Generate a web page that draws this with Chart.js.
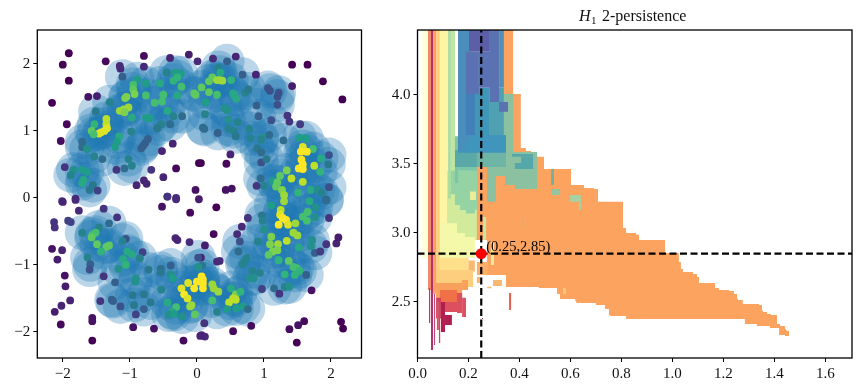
<!DOCTYPE html>
<html lang="en">
<head>
<meta charset="UTF-8">
<title>H1 2-persistence</title>
<script src="https://cdn.jsdelivr.net/npm/chart.js"></script>
<style>
    body { margin: 0; background: #ffffff; }
    canvas { position: absolute; top: 0; }
    #cloudChart { left: 0; }
    #persistenceChart { left: 380px; }
</style>
</head>
<body>
<canvas id="cloudChart" width="400" height="390"></canvas>
<canvas id="persistenceChart" width="481" height="390"></canvas>
<script>
// point cloud, each entry is [x, y, density]
const pointsTopLeft = [[-1.91,2.16,0],[-2,1.99,0],[-1.91,1.75,0],[-2.16,1.42,0],[-1.94,1.1,.02],[-2.03,.85,.03],[-1.62,1.51,.05],[-1.49,1.52,.08],[-1.36,2.04,.02],[-1.15,1.97,.12],[-1.14,1.93,.12],[-.79,2.12,.03],[-.79,1.96,.12],[-.4,2.09,.1],[-.12,2.14,.08],[.01,2.04,.12],[-1.11,1.81,.3],[-.89,1.77,.55],[-.76,1.71,.55],[-.95,1.69,.7],[-.95,1.62,.75],[-.93,1.55,.8],[-1.05,1.51,.8],[-1.07,1.49,.8],[-1.3,1.43,.45],[-1.51,1.29,.4],[-1.15,1.3,.85],[-1.09,1.32,.85],[-1.02,1.35,.85],[-1.08,1.28,.8],[-.97,1.2,.6],[-.76,1.53,.7],[-.63,1.42,.7],[-.52,1.44,.7],[-.5,1.54,.7],[-.76,1.2,.55],[-.7,1.19,.55],[-.55,1.71,.6],[-.45,1.87,.45],[-.32,1.87,.55],[-.24,1.86,.55],[-.35,1.75,.65],[-.29,1.8,.65],[-.23,1.66,.7],[-.29,1.53,.6],[-.44,1.3,.6],[-.35,1.22,.45],[-.22,1.22,.35],[-.4,1.1,.35],[-.53,1.1,.45],[-.59,1.04,.4],[-.98,.99,.45],[-1.35,1.18,.9],[-1.35,1.1,.9],[-1.34,1.04,.95],[-1.38,1,.95],[-1.43,.98,.95],[-1.46,.96,.95],[-1.53,1.1,.65],[-1.57,1,.75],[-1.54,.95,.7],[-1.16,.92,.6],[-1.19,.84,.55],[-1.22,.76,.55],[-1.71,.84,.35],[-1.71,.76,.35],[-1.64,.73,.5],[-1.53,.62,.45],[-1.41,.58,.35],[-1.02,.58,.45],[-.97,.48,.45],[-1.08,.44,.35],[-1.2,.42,.15],[-.73,.88,.3],[-.77,.82,.3],[-.8,.78,.3],[-.83,.74,.3],[-.36,.81,.1],[-.52,.7,.1],[-.31,.44,.02],[-.68,.42,.15],[-.5,.31,.1],[-.79,.26,.1],[-.75,.21,.1],[-.9,.19,.1],[.03,.52,0],[-.02,.12,.05],[-.44,.02,.15],[-.31,0,.12],[-1.97,.46,.15],[-1.84,.42,.5],[-1.71,.42,.55],[-1.64,.39,.55],[-1.88,.34,.45],[-1.69,.27,.6],[-1.71,.22,.6],[-1.55,.19,.4],[-1.6,.12,.4],[-1.48,.11,.2],[-1.81,-.01,.12],[-2.01,-.05,.15],[-.04,1.56,.75],[-.02,1.54,.75]];
const pointsTopRight = [[.24,2.08,.12],[.45,2.04,.3],[.58,2.11,.1],[.32,1.94,.45],[.35,1.87,.6],[.23,1.8,.75],[.18,1.74,.75],[.3,1.76,.85],[.34,1.76,.85],[.38,1.75,.85],[.51,1.76,.65],[.68,1.84,.3],[.88,1.84,.1],[.07,1.65,.75],[.18,1.58,.75],[.3,1.54,.7],[.13,1.43,.55],[.54,1.56,.6],[.56,1.53,.6],[.59,1.48,.6],[.72,1.57,.45],[.77,1.62,.4],[1.06,1.64,.25],[1.09,1.6,.25],[1.22,1.57,.25],[1.2,1.51,.25],[1.2,1.39,.25],[.89,1.38,.3],[1.42,1.99,0],[1.65,1.99,0],[1.42,1.67,.08],[1.88,1.74,0],[2.17,1.47,0],[.41,1.34,.5],[.45,1.31,.5],[.12,1.25,.45],[.47,1.17,.5],[.61,1.13,.45],[.92,1.22,.3],[1.11,1.16,.25],[1.35,1.23,.15],[1.38,1.14,.15],[1.54,1.1,.18],[.09,1.05,.35],[.11,1.03,.35],[.31,.97,.3],[.47,1.03,.45],[.55,1,.45],[.58,.92,.4],[.78,1.03,.45],[.8,.89,.45],[.97,.9,.5],[.96,.87,.45],[1.08,.94,.35],[1.29,.86,.35],[1.53,.9,.55],[1.63,.89,.55],[.9,.74,.4],[.96,.68,.35],[.96,.53,.25],[1.04,.58,.4],[.5,.65,.1],[.06,.52,0],[.44,.51,.02],[1.58,.76,.95],[1.73,.73,.7],[1.55,.69,1],[1.64,.69,1],[1.85,.59,.6],[1.97,.64,.25],[1.96,.5,.4],[1.56,.57,1],[1.58,.5,1],[1.52,.44,1],[1.58,.43,1],[1.75,.48,.9],[1.84,.39,.65],[1.34,.41,.8],[1.41,.29,.9],[1.24,.33,.75],[1.58,.24,.9],[1.13,.25,.55],[1.2,.23,.75],[1.18,.17,.75],[1,.18,.45],[.95,.29,.35],[.89,.18,.15],[1.27,.12,.8],[1.3,.04,.85],[1.51,.08,.65],[1.7,.12,.6],[1.8,.12,.5],[1.86,.08,.45],[1.97,.16,.25],[1.93,-.03,.3],[.43,.12,.05],[.52,.14,.05]];
const pointsBottomRight = [[1.3,-.05,.85],[1.11,-.11,.55],[1.68,-.05,.6],[1.77,-.14,.5],[1.93,-.04,.35],[1.97,-.3,.15],[1.65,-.21,.7],[1.58,-.28,.7],[1.64,-.34,.7],[1.76,-.29,.5],[.29,-.14,0],[.76,-.3,.15],[.67,-.43,.12],[.6,-.54,.12],[.64,-.65,.25],[.91,-.65,.45],[.97,-.26,.4],[.98,-.34,.45],[1,-.47,.5],[1.25,-.18,.9],[1.24,-.25,.95],[1.28,-.3,1],[1.33,-.33,1],[1.36,-.4,.95],[1.22,-.4,1],[1.47,-.38,.85],[1.44,-.52,.85],[1.5,-.56,.85],[1.11,-.58,.8],[1.34,-.64,.9],[1.09,-.69,.8],[1.21,-.69,.85],[1.2,-.78,.8],[1.13,-.8,.8],[1.07,-.85,.75],[1.52,-.74,.6],[1.72,-.63,.5],[1.7,-.72,.5],[1.76,-.82,.3],[1.84,-.8,.18],[1.93,-.69,.15],[2.08,-.68,.1],[2.11,-.59,.08],[.62,-.8,.35],[.74,-.9,.45],[.7,-.96,.45],[.68,-.99,.45],[1.22,-.93,.65],[1.37,-.94,.75],[1.44,-1.03,.7],[1.49,-1.05,.7],[1.53,-1.09,.65],[1.31,-1.14,.65],[1.46,-1.15,.65],[.83,-1.09,.45],[.94,-1.12,.45],[.79,-1.2,.5],[.85,-1.2,.5],[1.63,-1.15,.3],[1.31,-1.33,.45],[1.38,-1.32,.5],[1.15,-1.35,.35],[.97,-1.36,.2],[1.23,-1.43,.15],[1.71,-1.38,.05],[.09,-1.28,1],[.09,-1.35,1],[.09,-1.22,1],[.07,-1.17,1],[.23,-1.29,.85],[.25,-1.35,.85],[.32,-1.4,.85],[.51,-1.35,.6],[.58,-1.44,.8],[.65,-1.4,.65],[.54,-1.5,.9],[.58,-1.52,.9],[.48,-1.56,.9],[.23,-1.53,.7],[.69,-1.62,.55],[.76,-1.66,.35],[.59,-1.65,.55],[.45,-1.66,.55],[.3,-1.7,.45],[.11,-1.87,.15],[.05,-2.06,.12],[.12,-2.07,.12],[.54,-1.99,.03],[.81,-1.91,.03],[1.38,-1.96,.03],[1.51,-1.9,.05],[1.6,-1.84,.03],[1.49,-2.16,0],[2.15,-1.85,0],[2.18,-1.95,0],[.25,-.54,.02],[.12,-.71,.08],[.34,-.94,.12],[.3,-.95,.12],[.06,-.89,.1],[.08,-1.01,.4]];
const pointsBottomLeft = [[-2,-.06,.1],[-1.81,-.03,.12],[-1.76,-.19,.12],[-2.13,-.36,.15],[-2.12,-.44,.15],[-1.92,-.34,.2],[-1.88,-.36,.2],[-1.39,-.16,.15],[-1.19,-.29,.15],[-1.31,-.38,.35],[-1.46,-.44,.45],[-1.51,-.52,.7],[-1.56,-.55,.7],[-1.57,-.59,.75],[-1.71,-.52,.45],[-1.49,-.69,.75],[-1.35,-.73,.75],[-1.31,-.71,.75],[-1.43,-.8,.65],[-2.16,-.76,.05],[-2.01,-.78,.1],[-2.08,-.92,.08],[-1.97,-1.16,.05],[-1.96,-1.32,.08],[-1.89,-1.53,.1],[-2.02,-1.61,.1],[-2.12,-1.7,.08],[-2.03,-1.89,.02],[-1.63,-.89,.45],[-1.59,-.99,.3],[-1.6,-1.07,.25],[-1.39,-1.17,.15],[-1.22,-1.26,.3],[-1.06,-.61,.25],[-1.11,-.64,.45],[-1.04,-.8,.6],[-.97,-.84,.6],[-.81,-.81,.2],[-.85,-.9,.45],[-1.1,-.91,.6],[-1.06,-1,.65],[-1.17,-1.06,.5],[-.72,-1.07,.4],[-.91,-1.2,.5],[-.92,-1.25,.5],[-.54,-1.06,.35],[-.54,-1.11,.4],[-.39,-1.01,.3],[-.39,-1.14,.5],[-.36,-1.2,.55],[-.53,-1.37,.45],[-1.44,-1.54,.15],[-1.27,-1.52,.3],[-1.25,-1.54,.3],[-1.14,-1.62,.25],[-.94,-1.6,.4],[-.96,-1.45,.4],[-.79,-1.44,.4],[-.69,-1.56,.4],[-.79,-1.66,.3],[-.91,-1.74,.2],[-.95,-1.93,.05],[-.64,-1.95,.05],[-1.56,-1.79,.05],[-1.56,-1.84,.05],[-1.56,-2.13,0],[-.23,-1.35,.95],[-.13,-1.27,.95],[0,-1.25,1],[-.19,-1.44,1],[-.14,-1.5,.95],[-.04,-1.35,1],[-.1,-1.62,.85],[-.08,-1.6,.85],[-.44,-1.56,.6],[-.31,-1.63,.7],[-.37,-1.7,.6],[-.42,-1.74,.5],[-.34,-1.73,.55],[-.22,-1.77,.5],[-.03,-1.74,.75],[.02,-1.03,.5],[.02,-.89,.25],[-.2,-2.13,.02],[-.11,-.66,.12],[-.1,-.22,.02],[.03,-.02,.08],[-.32,-.6,.1],[-.29,-.63,.1],[-.44,.02,.15],[-.31,-.02,.12],[-.52,-.13,.05],[.07,-2.05,.1]];
const coverThreshold = 0.2;

// persistence crossing point
const crossX = [0.25];
const crossY = [2.85];

// outline of the big orange region, [x, y]
const orangeBody = [[.339,4.471],[.375,4.471],[.375,4.007],[.405,4.007],[.405,3.616],[.425,3.616],[.425,3.594],[.445,3.594],[.445,3.551],[.496,3.551],[.496,3.464],[.602,3.464],[.602,3.348],[.653,3.348],[.653,3.326],[.692,3.326],[.692,3.319],[.708,3.319],[.708,3.225],[.806,3.225],[.806,3.036],[.818,3.036],[.818,3],[.857,3],[.857,2.986],[.869,2.986],[.869,2.949],[.971,2.949],[.971,2.855],[1.025,2.855],[1.025,2.79],[1.033,2.79],[1.033,2.739],[1.041,2.739],[1.041,2.717],[1.08,2.717],[1.08,2.703],[1.096,2.703],[1.096,2.681],[1.104,2.681],[1.104,2.638],[1.167,2.638],[1.167,2.601],[1.182,2.601],[1.182,2.587],[1.222,2.587],[1.222,2.58],[1.241,2.58],[1.241,2.558],[1.253,2.558],[1.253,2.536],[1.257,2.514],[1.276,2.514],[1.276,2.486],[1.339,2.486],[1.339,2.478],[1.351,2.478],[1.351,2.449],[1.355,2.428],[1.371,2.428],[1.371,2.413],[1.386,2.413],[1.386,2.406],[1.41,2.406],[1.41,2.341],[1.422,2.341],[1.422,2.326],[1.441,2.326],[1.441,2.312],[1.449,2.29],[1.457,2.29],[1.457,2.254],[1.441,2.254],[1.441,2.261],[1.418,2.261],[1.418,2.312],[1.382,2.312],[1.382,2.326],[1.331,2.326],[1.331,2.341],[1.284,2.341],[1.284,2.377],[.818,2.377],[.818,2.399],[.759,2.399],[.751,2.406],[.751,2.449],[.735,2.449],[.735,2.478],[.7,2.478],[.7,2.493],[.625,2.493],[.618,2.514],[.618,2.522],[.559,2.522],[.559,2.558],[.547,2.558],[.547,2.601],[.476,2.601],[.476,2.609],[.347,2.609],[.347,2.696],[.273,2.696],[.273,2.949],[.229,2.949],[.229,3.6],[.339,3.6]];

// patches of the persistence map, each [x0, x1, y0, y1]
const stripPale = [[.018,.041,2.819,4.471]];
const stripSalmon = [[.041,.053,2.587,4.471]];
const stripThin = [[.045,.05,2.348,2.6]];
const stripMagenta = [[.053,.061,2.152,4.471]];
const stripOrange = [[.061,.073,2.56,4.471]];
const stripLight = [[.073,.088,2.6,4.471]];
const stripYellow = [[.088,.12,2.75,4.471]];
const hillPale = [[.116,.233,2.95,3.45]];
const hillLime = [[.12,.131,3.25,4.471]];
const hillSpring = [[.131,.147,3.3,4.471]];
const hillGreen = [[.131,.233,3.28,3.45],[.147,.233,3.203,3.45],[.167,.233,3.167,3.45],[.19,.225,3.14,3.45]];
const hillTip = [[.206,.229,3.239,3.3]];
const hillYellow = [[.088,.155,2.79,3.07],[.155,.186,2.82,3],[.186,.225,2.82,2.97]];
const hillFoot = [[.088,.2,2.69,2.82],[.2,.218,2.7,2.75]];
const footBits = [[.2,.225,2.72,2.8],[.233,.245,2.638,2.681],[.296,.331,2.616,2.659],[.273,.29,2.6,2.61]];
const bandLight = [[.073,.218,2.609,2.732]];
const bandOrange = [[.073,.175,2.529,2.638],[.175,.198,2.587,2.659]];
const bandSalmon = [[.088,.155,2.464,2.587]];
const bandPink = [[.155,.175,2.42,2.565],[.175,.19,2.391,2.53],[.108,.155,2.428,2.5]];
const bandDark = [[.073,.092,2.38,2.53]];
const spikeA = [[.065,.069,2.188,2.56]];
const spikeB = [[.084,.089,2.203,2.5]];
const spikeC = [[.076,.084,2.297,2.5]];
const bandCrimson = [[.092,.108,2.283,2.5],[.108,.135,2.333,2.406],[.253,.257,2.377,2.384]];
const spikeRed = [[.359,.367,2.442,2.565]];
const notchFoot = [[.233,.273,2.696,2.79]];
const notchPale = [[.288,.3,2.768,2.935]];
const notchLime = [[.257,.269,2.949,3.116]];
const upperGreen = [[.339,.375,3.587,4.007],[.284,.469,3.471,3.587],[.343,.469,3.348,3.471],[.308,.343,3.413,3.471],[.382,.469,3.319,3.348],[.273,.308,3.225,3.587]];
const upperTeal = [[.371,.453,3.551,3.572],[.406,.453,3.464,3.551],[.382,.406,3.464,3.507]];
const upperMint = [[.159,.233,3.45,3.55],[.147,.159,3.362,3.7]];
const tealBand = [[.147,.233,3.478,3.6]];
const tealBandRight = [[.233,.347,3.478,3.6]];
const blueBand = [[.159,.347,3.58,3.71]];
const blueLeft = [[.159,.186,3.6,3.71],[.159,.202,3.674,4.471]];
const blueMidA = [[.19,.229,3.71,4.051]];
const blueMidB = [[.229,.284,3.71,4.051]];
const blueMidC = [[.284,.339,3.71,4.051]];
const blueEdge = [[.32,.339,4.051,4.471]];
const violet = [[.284,.32,3.949,4.471],[.19,.241,4.007,4.312],[.241,.312,4.051,4.312],[.32,.355,3.877,3.949]];
const violetDark = [[.202,.284,4.312,4.471]];
const accentTeal = [[.524,.535,3.348,3.464]];
const accentGreen = [[.524,.559,3.275,3.319]];
const accentLime = [[.598,.641,3.225,3.275],[.633,.641,3.167,3.225]];
const accentPale = [[.571,.582,2.558,2.601]];
const accentTan = [[.41,.414,3.036,3.109]];

// paint order goes from back to front
const paintOrder = [
    [stripPale, '#feffd9'], [stripSalmon, '#ef8a6c'], [stripThin, '#c23a6a'], [stripMagenta, '#b2326e'],
    [stripOrange, '#fb9f5f'], [stripLight, '#fdcf80'], [stripYellow, '#fdf5a4'], [hillPale, '#d2ea9c'],
    [hillLime, '#a8dca2'], [hillSpring, '#bfe5a0'], [hillGreen, '#95d3a4'], [hillTip, '#e8ee9a'],
    [hillYellow, '#f4f9a9'], [hillFoot, '#fee08b'], [footBits, '#f9b870'], [bandLight, '#fdce7e'],
    [bandOrange, '#f8a05c'], [bandSalmon, '#f07048'], [bandPink, '#dc4f5f'], [bandDark, '#cf3f5f'],
    [spikeA, '#b8406a'], [spikeB, '#c04d6e'], [spikeC, '#d2556a'], [bandCrimson, '#b01f4f'],
    [spikeRed, '#e8604f'], [notchFoot, '#fbb06a'], [notchPale, '#fce8a0'], [notchLime, '#c8e8a0'],
    [upperGreen, '#8bc0a0'], [upperTeal, '#55a8aa'], [upperMint, '#7cc6a8'], [tealBand, '#5aa8a8'],
    [tealBandRight, '#6fb5a5'], [blueBand, '#3f95bb'], [blueLeft, '#4a8ebb'], [blueMidA, '#4380b8'],
    [blueMidB, '#3f96b7'], [blueMidC, '#4fa0b0'], [blueEdge, '#5090b5'], [violet, '#5a72b2'],
    [violetDark, '#5c5fa8'], [accentTeal, '#70b0a0'], [accentGreen, '#96c4a0'], [accentLime, '#a8d0a0'],
    [accentPale, '#fcc978'], [accentTan, '#e8a868']
];

const viridisStops = ['#440154', '#482878', '#3e4989', '#31688e', '#26828e', '#1f9e89', '#35b779', '#6ece58', '#b5de2b', '#fde725'];

function viridis(t) {
    const pos = Math.min(t, 0.9999) * (viridisStops.length - 1);
    const i = Math.floor(pos);
    const f = pos - i;
    const a = viridisStops[i], b = viridisStops[i + 1];
    let out = '#';
    for (let k = 1; k < 7; k += 2) {
        const c1 = parseInt(a.substr(k, 2), 16), c2 = parseInt(b.substr(k, 2), 16);
        out += Math.round(c1 + (c2 - c1) * f).toString(16).padStart(2, '0');
    }
    return out;
}

const FONT = 'Liberation Serif';
const BLACK = '#000000';

// full matplotlib style box round the plot area
const boxPlugin = {
    id: 'box',
    afterDatasetsDraw(chart) {
        const a = chart.chartArea;
        const ctx = chart.ctx;
        ctx.save();
        ctx.strokeStyle = BLACK;
        ctx.lineWidth = 1.3;
        ctx.strokeRect(a.left, a.top, a.right - a.left, a.bottom - a.top);
        ctx.restore();
    }
};

function axisOptions(min, max, step, size, format, horizontal) {
    const opts = {
        type: 'linear',
        min: min,
        max: max,
        grid: { display: true, drawOnChartArea: false, color: BLACK, tickLength: 4, tickWidth: 1, tickColor: BLACK },
        border: { display: false },
        ticks: {
            stepSize: step,
            includeBounds: false,
            autoSkip: false,
            maxRotation: 0,
            color: '#111111',
            padding: 3,
            font: { family: FONT, size: 15 },
            callback: format
        }
    };
    if (horizontal) {
        opts.afterFit = s => { s.height = size; };
    } else {
        opts.afterFit = s => { s.width = size; };
    }
    return opts;
}

const signedInt = v => String(v).replace('-', '\u2212');
const oneDecimal = v => Number(v).toFixed(1);

const allPoints = pointsTopLeft.concat(pointsTopRight, pointsBottomRight, pointsBottomLeft);
const covered = allPoints.filter(p => p[2] > coverThreshold);

new Chart(document.getElementById('cloudChart'), {
    type: 'scatter',
    data: {
        datasets: [
            {
                data: allPoints.map(p => ({ x: p[0], y: p[1] })),
                pointRadius: 3.9,
                pointBorderWidth: 0,
                pointBackgroundColor: allPoints.map(p => viridis(p[2])),
                order: 1
            },
            {
                data: covered.map(p => ({ x: p[0], y: p[1] })),
                pointRadius: 17.5,
                pointBorderWidth: 0,
                pointBackgroundColor: 'rgba(31,119,180,0.3)',
                order: 2
            }
        ]
    },
    options: {
        responsive: false,
        animation: false,
        devicePixelRatio: 1,
        layout: { padding: { top: 30, right: 38.5, left: 0, bottom: 0 } },
        plugins: { legend: { display: false }, tooltip: { enabled: false } },
        scales: {
            x: axisOptions(-2.38, 2.455, 1, 32, signedInt, true),
            y: axisOptions(-2.39, 2.507, 1, 37.3, signedInt, false)
        }
    },
    plugins: [boxPlugin]
});

// title and the crossing label need mixed fonts so they are written by hand
const persistenceText = {
    id: 'persistenceText',
    afterDraw(chart) {
        const ctx = chart.ctx;
        const px = chart.scales.x.getPixelForValue(crossX[0]);
        const py = chart.scales.y.getPixelForValue(crossY[0]);
        ctx.save();
        ctx.fillStyle = BLACK;
        ctx.textBaseline = 'alphabetic';
        ctx.font = '14.5px "' + FONT + '"';
        ctx.fillText('(0.25,2.85)', px + 5, py - 3);
        ctx.fillStyle = '#111111';
        ctx.font = 'italic 16px "' + FONT + '"';
        ctx.fillText('H', 199, 21);
        ctx.font = '11px "' + FONT + '"';
        ctx.fillText('1', 211, 24);
        ctx.font = '16px "' + FONT + '"';
        ctx.fillText('2-persistence', 222, 21);
        ctx.restore();
    }
};

const rectCorners = r => [[r[0], r[2]], [r[1], r[2]], [r[1], r[3]], [r[0], r[3]]];

function regionDataset(points, color, order) {
    return {
        data: points.map(p => ({ x: p[0], y: p[1] })),
        showLine: true,
        fill: 'shape',
        backgroundColor: color,
        borderWidth: 0,
        borderColor: 'transparent',
        pointRadius: 0,
        tension: 0,
        order: order
    };
}

const regionDatasets = [regionDataset(orangeBody, '#fca360', 1000)];
let paintLevel = 999;
paintOrder.forEach(entry => {
    entry[0].forEach(rect => {
        regionDatasets.push(regionDataset(rectCorners(rect), entry[1], paintLevel));
        paintLevel--;
    });
});

const xLimits = [0, 1.704];
const yLimits = [2.094, 4.47];

new Chart(document.getElementById('persistenceChart'), {
    type: 'scatter',
    data: {
        datasets: regionDatasets.concat([
            {
                data: [{ x: crossX[0], y: yLimits[0] }, { x: crossX[0], y: yLimits[1] }],
                showLine: true,
                borderColor: BLACK,
                borderWidth: 2.2,
                borderDash: [7, 3.5],
                pointRadius: 0,
                order: 3
            },
            {
                data: [{ x: xLimits[0], y: crossY[0] }, { x: xLimits[1], y: crossY[0] }],
                showLine: true,
                borderColor: BLACK,
                borderWidth: 2.2,
                borderDash: [7, 3.5],
                pointRadius: 0,
                order: 2
            },
            {
                data: [{ x: crossX[0], y: crossY[0] }],
                pointRadius: 5.5,
                pointStyle: 'circle',
                pointBorderWidth: 0,
                pointBackgroundColor: '#ff0000',
                order: -1
            }
        ])
    },
    options: {
        responsive: false,
        animation: false,
        devicePixelRatio: 1,
        layout: { padding: { top: 30, right: 9, left: 0, bottom: 0 } },
        plugins: { legend: { display: false }, tooltip: { enabled: false } },
        scales: {
            x: axisOptions(xLimits[0], xLimits[1], 0.2, 32, oneDecimal, true),
            y: axisOptions(yLimits[0], yLimits[1], 0.5, 37.5, oneDecimal, false)
        }
    },
    plugins: [boxPlugin, persistenceText]
});
</script>
</body>
</html>
